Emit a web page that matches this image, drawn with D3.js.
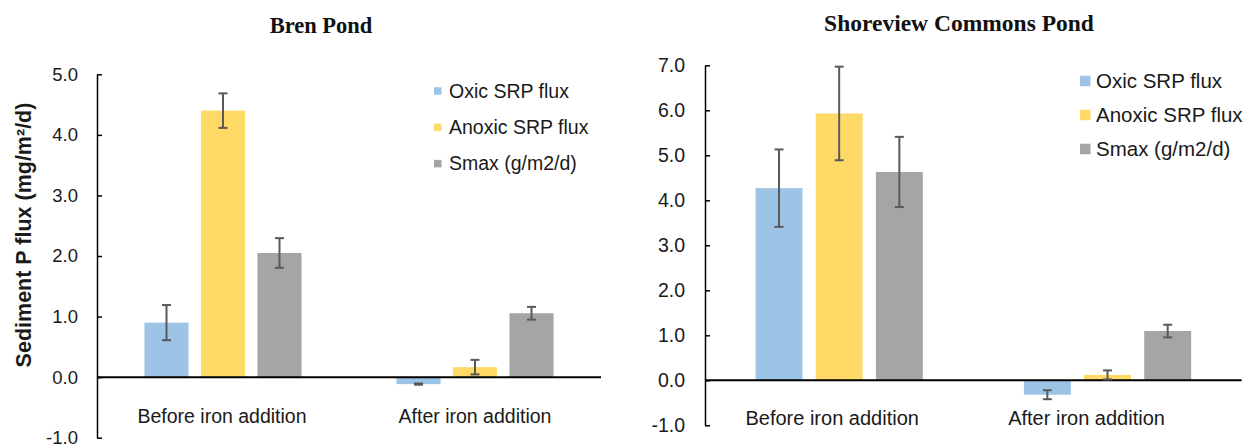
<!DOCTYPE html>
<html>
<head>
<meta charset="utf-8">
<script src="https://cdn.jsdelivr.net/npm/d3@7"></script>
<style>
  html, body { margin: 0; padding: 0; background: #fff; }
  svg { display: block; }
</style>
</head>
<body>
<svg id="chart" width="1251" height="445"></svg>
<script>
// ---------- data ----------
const categories = ["Before iron addition", "After iron addition"];
const seriesNames = ["Oxic SRP flux", "Anoxic SRP flux", "Smax (g/m2/d)"];
const seriesColors = ["#9DC3E6", "#FFD966", "#A5A5A5"];

// Bren Pond
const brenOxic = [0.90, -0.115];
const brenOxicErr = [0.29, 0.01];
const brenAnoxic = [4.40, 0.165];
const brenAnoxicErr = [0.285, 0.12];
const brenSmax = [2.05, 1.055];
const brenSmaxErr = [0.245, 0.105];
const brenTicks = [-1, 0, 1, 2, 3, 4, 5];

// Shoreview Commons Pond
const shoreOxic = [4.27, -0.32];
const shoreOxicErr = [0.86, 0.10];
const shoreAnoxic = [5.93, 0.12];
const shoreAnoxicErr = [1.04, 0.10];
const shoreSmax = [4.63, 1.095];
const shoreSmaxErr = [0.78, 0.14];
const shoreTicks = [-1, 0, 1, 2, 3, 4, 5, 6, 7];

const yLabel = "Sediment P flux (mg/m\u00B2/d)";

// ---------- drawing ----------
const svg = d3.select("#chart");
const fmt = v => v.toFixed(1);

function drawChart(cfg) {
  const g = svg.append("g");
  const x0 = d3.scaleBand().domain(categories).range([cfg.x0, cfg.x1]).padding(0);
  const x1 = d3.scaleBand().domain(seriesNames).range([0, x0.bandwidth()])
    .paddingInner(0.22).paddingOuter(0.84);
  const y = d3.scaleLinear().domain(cfg.domain).range([cfg.yBottom, cfg.yTop]);

  // bars
  cfg.series.forEach((s, si) => {
    const rows = categories.map((c, i) => ({ c, v: s.values[i], e: s.err[i] }));
    g.append("g").selectAll("rect").data(rows).join("rect")
      .attr("x", d => x0(d.c) + x1(seriesNames[si]))
      .attr("width", x1.bandwidth())
      .attr("y", d => y(Math.max(0, d.v)))
      .attr("height", d => Math.abs(y(d.v) - y(0)))
      .attr("fill", seriesColors[si]);
  });

  // axis
  const axis = d3.axisLeft(y).tickValues(cfg.ticks).tickFormat(fmt)
    .tickSizeInner(-5).tickSizeOuter(0).tickPadding(cfg.tickPad);
  const ag = g.append("g").attr("transform", `translate(${cfg.x0},0)`).call(axis);
  ag.select(".domain").attr("stroke", "#000").attr("stroke-width", 1.5);
  ag.selectAll(".tick line").attr("stroke", "#000").attr("stroke-width", 1.5);
  ag.selectAll(".tick text").attr("font-family", "'Liberation Sans', Arial, sans-serif")
    .attr("font-size", cfg.tickFont).attr("fill", "#1a1a1a");

  // zero line
  g.append("line").attr("x1", cfg.x0).attr("x2", cfg.x1)
    .attr("y1", y(0)).attr("y2", y(0)).attr("stroke", "#000").attr("stroke-width", 2);

  // error bars
  cfg.series.forEach((s, si) => {
    const rows = categories.map((c, i) => ({ c, v: s.values[i], e: s.err[i] }));
    const eg = g.append("g").attr("stroke", "#595959").attr("stroke-width", 2);
    rows.forEach(d => {
      const cx = x0(d.c) + x1(seriesNames[si]) + x1.bandwidth() / 2;
      eg.append("line").attr("x1", cx).attr("x2", cx).attr("y1", y(d.v + d.e)).attr("y2", y(d.v - d.e));
      [d.v + d.e, d.v - d.e].forEach(v => {
        eg.append("line").attr("x1", cx - 4.5).attr("x2", cx + 4.5).attr("y1", y(v)).attr("y2", y(v));
      });
    });
  });

  // category labels
  g.selectAll(".cat").data(categories).join("text")
    .attr("x", (d, i) => x0(d) + x0.bandwidth() / 2 + cfg.catDx[i])
    .attr("y", cfg.catY)
    .attr("text-anchor", "middle")
    .attr("font-family", "'Liberation Sans', Arial, sans-serif")
    .attr("font-size", cfg.catFont).attr("fill", "#1a1a1a")
    .text(d => d);

  // title
  g.append("text").attr("x", cfg.titleX).attr("y", cfg.titleY)
    .attr("text-anchor", "middle")
    .attr("font-family", "'Liberation Serif', 'Times New Roman', serif")
    .attr("font-weight", "bold").attr("font-size", cfg.titleFont).attr("fill", "#111")
    .text(cfg.title);

  // legend
  const lg = g.append("g");
  seriesNames.forEach((n, i) => {
    const cy = cfg.legY + i * cfg.legStep;
    lg.append("rect").attr("x", cfg.legX).attr("y", cy - cfg.legSq / 2)
      .attr("width", cfg.legSq).attr("height", cfg.legSq).attr("fill", seriesColors[i]);
    lg.append("text").attr("x", cfg.legX + cfg.legSq + cfg.legGap).attr("y", cy)
      .attr("dy", "0.35em")
      .attr("font-family", "'Liberation Sans', Arial, sans-serif")
      .attr("font-size", cfg.legFont).attr("fill", "#1a1a1a")
      .text(n);
  });

  if (cfg.yLabel) {
    g.append("text")
      .attr("transform", `translate(${cfg.yLabelX},${cfg.yLabelY}) rotate(-90)`)
      .attr("text-anchor", "middle").attr("dy", "0.35em")
      .attr("font-family", "'Liberation Sans', Arial, sans-serif")
      .attr("font-weight", "bold").attr("font-size", 21.5).attr("fill", "#1a1a1a")
      .text(cfg.yLabel);
  }
}

drawChart({
  title: "Bren Pond", titleX: 321, titleY: 33, titleFont: 22.5,
  x0: 97, x1: 601, yTop: 74.3, yBottom: 437.7, domain: [-1, 5], ticks: brenTicks,
  tickPad: 19, tickFont: 18.5, catY: 423, catFont: 19.5, catDx: [-1, 0],
  series: [
    { values: brenOxic, err: brenOxicErr },
    { values: brenAnoxic, err: brenAnoxicErr },
    { values: brenSmax, err: brenSmaxErr }
  ],
  legX: 434, legY: 91, legStep: 36.3, legSq: 7.5, legGap: 7.5, legFont: 19.5,
  yLabel: yLabel, yLabelX: 23, yLabelY: 235
});

drawChart({
  title: "Shoreview Commons Pond", titleX: 959, titleY: 31, titleFont: 23.5,
  x0: 705, x1: 1241.7, yTop: 65.3, yBottom: 425.3, domain: [-1, 7], ticks: shoreTicks,
  tickPad: 20, tickFont: 19.5, catY: 425, catFont: 20, catDx: [-7, -21],
  series: [
    { values: shoreOxic, err: shoreOxicErr },
    { values: shoreAnoxic, err: shoreAnoxicErr },
    { values: shoreSmax, err: shoreSmaxErr }
  ],
  legX: 1080, legY: 81, legStep: 34, legSq: 10.5, legGap: 5.5, legFont: 20.5,
  yLabel: null
});
</script>
</body>
</html>
